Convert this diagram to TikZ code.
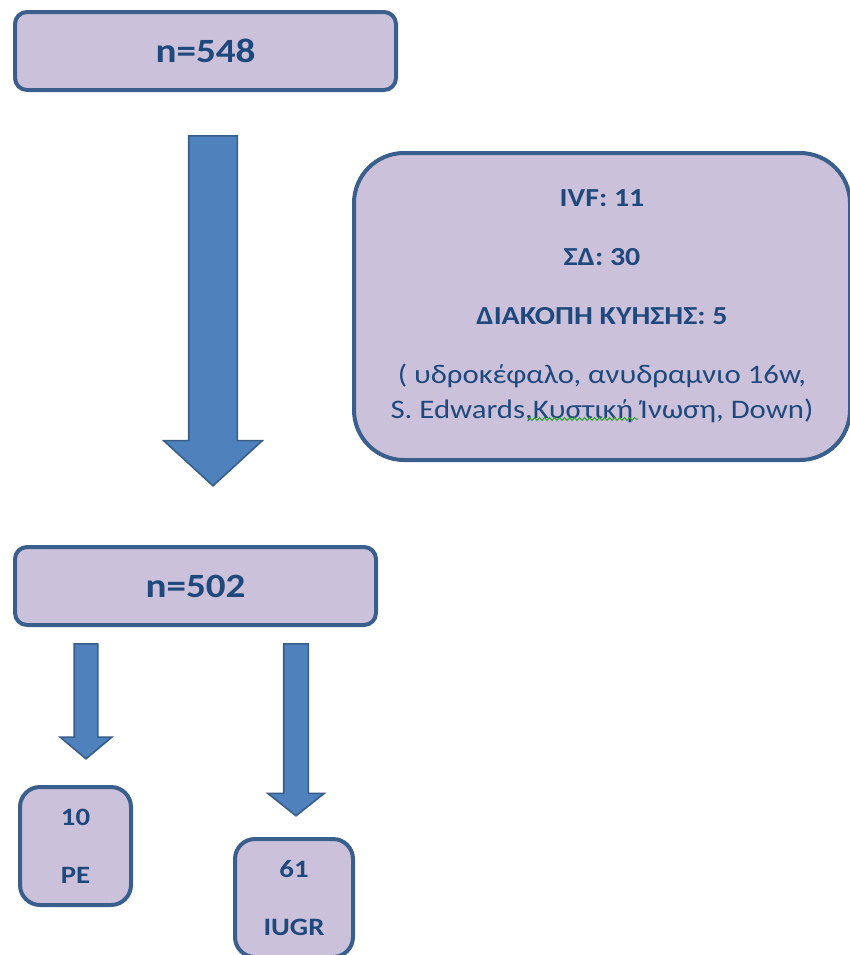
\documentclass[tikz,border=0pt]{standalone}
\usepackage{fontspec}
\setmainfont[FakeStretch=1.15]{Carlito}
\usepackage{tikz}
\usetikzlibrary{shapes.arrows,positioning,decorations.pathmorphing}
\definecolor{BoxFill}{HTML}{CCC1DA}
\definecolor{BoxLine}{HTML}{3A5F8C}
\definecolor{ArrowFill}{HTML}{4F81BD}
\definecolor{ArrowLine}{HTML}{385D8A}
\definecolor{TextNavy}{HTML}{1F497D}
\definecolor{SpellGreen}{HTML}{2FA02F}

\begin{document}
\begin{tikzpicture}[
      x=0.5pt, y=-0.5pt,
      box/.style={draw=BoxLine,fill=BoxFill,line width=2pt,rounded corners=6pt,align=center,text=TextNavy,inner sep=0pt},
      blockarrow/.style={single arrow,draw=ArrowLine,fill=ArrowFill,line width=0.8pt,shape border rotate=270,single arrow head indent=0pt,anchor=tail},
      spellcheck/.style={draw=SpellGreen,line width=0.5pt,decorate,decoration={snake,amplitude=0.7pt,segment length=2.5pt}}
    ]
      \useasboundingbox (0,0) rectangle (850,955);
      \node[box,minimum width=190.5pt,minimum height=39pt,font=\fontsize{17}{20}\selectfont\bfseries] (n548) at (205.5,51) {n=548};
      \node[box,minimum width=180.5pt,minimum height=39pt,font=\fontsize{17}{20}\selectfont\bfseries] (n502) at (195.5,586) {n=502};
      \node[box,rounded corners=25pt,minimum width=248pt,minimum height=153.5pt,font=\fontsize{13}{17.5}\selectfont] (excl) at (602,306.5)
        {\textbf{IVF: 11}\\[12pt]\textbf{ΣΔ: 30}\\[12pt]\textbf{ΔΙΑΚΟΠΗ ΚΥΗΣΗΣ: 5}\\[12pt]
         {\fontsize{13.4}{17.5}\selectfont ( υδροκέφαλο, ανυδραμνιο 16w,}\\{\fontsize{13.4}{17.5}\selectfont S. Edwards,Κυστική Ίνωση, Down)}};
      \draw[spellcheck] (528,419) -- (638,419);
      \node[box,rounded corners=10pt,minimum width=55.5pt,minimum height=59pt,font=\fontsize{12.5}{29}\selectfont\bfseries] (pe) at (75.5,846) {10\\PE};
      \node[box,rounded corners=10pt,minimum width=59pt,minimum height=59pt,font=\fontsize{12.5}{29}\selectfont\bfseries] (iugr) at (294,898) {61\\IUGR};
      % block arrows
      \node[blockarrow,inner sep=11.75pt,minimum height=175pt,minimum width=48.5pt,single arrow head extend=12.5pt,single arrow tip angle=95] (a1) at (213,135) {};
      \node[blockarrow,inner sep=5.5pt,minimum height=57.5pt,minimum width=25pt,single arrow head extend=7pt,single arrow tip angle=100] (a2) at (86,643) {};
      \node[blockarrow,inner sep=5.75pt,minimum height=86pt,minimum width=27.5pt,single arrow head extend=8pt,single arrow tip angle=103] (a3) at (296,643) {};
    \end{tikzpicture}
\end{document}
